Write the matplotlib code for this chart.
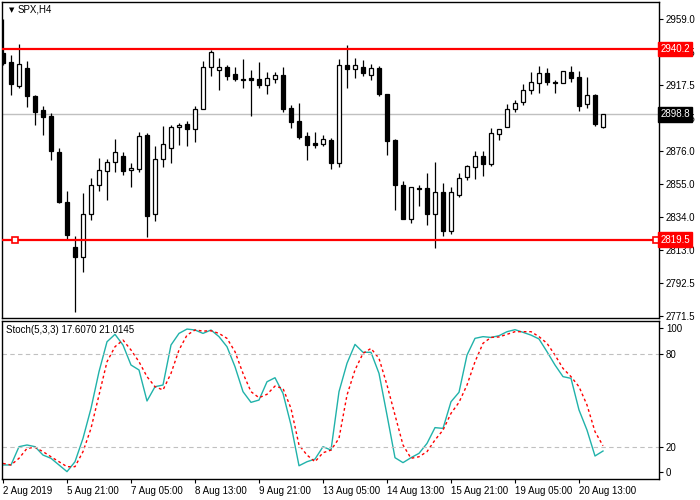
import matplotlib
matplotlib.use('Agg')
import matplotlib.pyplot as plt
import matplotlib.transforms as mtransforms

plt.rcParams['font.family'] = ['Liberation Sans', 'DejaVu Sans']

# SPX H4 candles, one entry per bar
opens = [2937.5, 2931.8, 2917.0, 2928.0, 2910.5, 2901.6, 2897.8, 2875.1, 2843.2, 2814.8,
         2808.9, 2835.7, 2854.0, 2862.9, 2868.6, 2872.3, 2863.5, 2864.5, 2885.6, 2835.7,
         2870.4, 2877.4, 2890.7, 2892.6, 2889.4, 2902.1, 2928.6, 2927.1, 2928.6, 2924.4,
         2921.0, 2921.7, 2921.0, 2917.7, 2921.5, 2923.8, 2902.7, 2894.7, 2885.0, 2880.6,
         2880.3, 2882.7, 2867.9, 2930.1, 2927.8, 2928.6, 2924.0, 2928.0, 2911.5, 2882.7,
         2854.0, 2832.5, 2852.3, 2852.3, 2835.7, 2849.6, 2825.3, 2848.1, 2859.1, 2865.4,
         2872.3, 2867.7, 2886.2, 2890.7, 2902.1, 2906.5, 2914.1, 2918.5, 2924.8, 2919.1,
         2918.5, 2925.5, 2922.3, 2905.2, 2910.9, 2891.1]
highs = [2959.0, 2936.4, 2943.4, 2932.6, 2911.1, 2904.2, 2899.5, 2877.4, 2850.2, 2822.0,
         2849.0, 2858.4, 2871.3, 2870.4, 2883.3, 2875.1, 2867.9, 2887.7, 2886.9, 2878.7,
         2891.5, 2892.1, 2893.2, 2894.7, 2904.2, 2932.6, 2939.6, 2934.3, 2930.1, 2929.0,
         2933.9, 2926.9, 2932.0, 2925.5, 2925.5, 2928.8, 2904.8, 2906.1, 2887.7, 2887.7,
         2885.8, 2883.9, 2933.9, 2942.7, 2934.5, 2933.3, 2930.7, 2929.3, 2911.5, 2883.3,
         2856.7, 2852.7, 2854.2, 2861.8, 2868.8, 2855.5, 2853.0, 2861.6, 2866.9, 2875.7,
         2875.7, 2890.3, 2889.4, 2905.4, 2907.8, 2917.9, 2925.7, 2929.5, 2928.0, 2920.4,
         2926.1, 2929.5, 2926.3, 2922.5, 2911.8, 2899.1]
lows = [2930.1, 2911.1, 2915.8, 2903.7, 2892.1, 2885.8, 2870.0, 2843.0, 2820.1, 2774.1,
        2799.4, 2832.1, 2850.4, 2844.7, 2862.4, 2860.7, 2853.2, 2862.6, 2821.5, 2831.7,
        2865.8, 2868.3, 2879.5, 2878.9, 2881.6, 2902.1, 2923.3, 2914.3, 2920.6, 2920.0,
        2915.8, 2898.1, 2915.8, 2912.0, 2918.9, 2900.4, 2890.5, 2883.5, 2870.0, 2877.8,
        2878.9, 2864.5, 2865.8, 2915.8, 2922.1, 2923.3, 2920.6, 2910.7, 2873.2, 2838.4,
        2832.9, 2830.4, 2840.9, 2828.9, 2814.6, 2822.2, 2823.0, 2846.8, 2857.4, 2858.2,
        2860.1, 2866.4, 2882.9, 2890.7, 2900.6, 2904.8, 2912.0, 2912.6, 2917.7, 2912.6,
        2918.5, 2919.6, 2901.2, 2903.1, 2891.7, 2890.5]
closes = [2931.6, 2917.9, 2930.5, 2910.7, 2900.6, 2897.4, 2875.9, 2843.5, 2822.8, 2808.9,
          2835.7, 2854.0, 2863.5, 2868.6, 2874.9, 2863.3, 2865.0, 2885.0, 2834.8, 2870.4,
          2879.9, 2890.7, 2891.9, 2889.8, 2902.1, 2928.6, 2938.1, 2928.6, 2923.3, 2921.0,
          2920.8, 2920.8, 2917.7, 2921.7, 2923.6, 2902.5, 2894.3, 2884.8, 2879.7, 2879.7,
          2883.3, 2868.3, 2930.1, 2927.8, 2929.9, 2925.2, 2928.0, 2912.0, 2882.2, 2854.4,
          2832.9, 2852.7, 2851.5, 2836.1, 2849.6, 2825.3, 2849.6, 2858.4, 2866.0, 2872.3,
          2867.7, 2886.9, 2889.4, 2902.1, 2905.9, 2914.1, 2919.1, 2924.8, 2919.1, 2918.9,
          2926.1, 2922.1, 2904.4, 2910.9, 2892.8, 2898.8]

# Stochastic (5,3,3)
stoch_k = [8.6, 8.6, 20.4, 21.5, 20.4, 15.0, 12.9, 8.6, 4.3, 10.7,
           25.8, 45.1, 68.8, 88.1, 92.9, 86.0, 73.1, 69.9, 49.9, 59.1,
           60.2, 86.0, 93.5, 96.3, 95.7, 93.5, 95.7, 91.4, 84.9, 72.0,
           55.9, 49.0, 50.5, 62.3, 64.9, 54.8, 34.4, 8.1, 10.7, 12.4,
           20.4, 18.2, 55.9, 74.2, 86.4, 81.3, 81.3, 67.7, 40.8, 13.3,
           10.1, 13.3, 16.1, 22.5, 32.7, 32.2, 49.4, 55.5, 79.5, 90.3,
           91.4, 90.9, 92.0, 94.6, 95.9, 94.2, 92.4, 89.9, 81.7, 73.1,
           65.6, 64.5, 44.1, 31.1, 14.4, 17.6]
stoch_d = [9.6, 8.6, 12.9, 19.3, 20.0, 17.2, 13.9, 10.7, 7.5, 7.5,
           17.2, 32.2, 53.7, 75.2, 84.9, 89.2, 82.8, 75.2, 65.6, 59.1,
           57.0, 67.7, 82.8, 92.4, 95.7, 95.0, 95.2, 93.5, 90.3, 81.7,
           67.7, 55.9, 52.0, 54.2, 59.5, 58.0, 45.1, 21.5, 15.0, 10.7,
           16.5, 18.2, 25.8, 53.7, 69.9, 80.6, 83.8, 77.4, 60.2, 40.8,
           21.5, 12.9, 13.9, 17.2, 24.7, 31.1, 41.9, 49.0, 60.2, 75.2,
           87.1, 90.9, 91.2, 92.9, 94.6, 94.6, 94.6, 91.4, 87.1, 79.5,
           70.9, 65.6, 59.1, 47.3, 30.1, 21.0]

price_ticks = [2771.5, 2792.5, 2813.0, 2834.0, 2855.0, 2876.0, 2896.5, 2917.5, 2938.5, 2959.0]
time_ticks = [0, 8, 16, 24, 32, 40, 48, 56, 64, 72]
time_labels = ['2 Aug 2019', '5 Aug 21:00', '7 Aug 05:00', '8 Aug 13:00', '9 Aug 21:00',
               '13 Aug 05:00', '14 Aug 13:00', '15 Aug 21:00', '19 Aug 05:00', '20 Aug 13:00']
resistance = 2940.2
support = 2819.5
bid = 2898.8

W, H = 700, 500
fig = plt.figure(figsize=(7, 5), dpi=100)
ax = fig.add_axes([2 / W, 1 - 318 / H, 657 / W, 316 / H])
ax2 = fig.add_axes([2 / W, 1 - 479 / H, 657 / W, 158 / H], sharex=ax)

x = list(range(len(opens)))
ax.vlines(x, lows, highs, color='black', lw=0.9, zorder=2)
for i in x:
    o, c = opens[i], closes[i]
    fc = 'white' if c >= o else 'black'
    h = abs(c - o)
    if h < 0.3:
        h = 0.3
    ax.bar(i, h, bottom=min(o, c), width=0.62, color=fc, edgecolor='black', lw=0.9, zorder=3)

ax.axhline(bid, color='#c0c0c0', lw=1, zorder=1)
ax.axhline(resistance, color='red', lw=1.6, zorder=4)
ax.axhline(support, color='red', lw=1.6, zorder=4)
ax.plot([0.02, 0.995], [support, support], 's', ms=4, mfc='white', mec='red', mew=1.2,
        transform=mtransforms.blended_transform_factory(ax.transAxes, ax.transData),
        zorder=5, clip_on=False)

ax.set_xlim(-0.125, 82)
ax.set_ylim(2770.1, 2969.9)
ax.yaxis.tick_right()
ax.set_yticks(price_ticks)
ax.set_yticklabels(['%.1f' % v for v in price_ticks])
ax.tick_params(axis='y', direction='out', length=3, labelsize=7, pad=2)
ax.tick_params(axis='x', bottom=False, labelbottom=False)

tr = mtransforms.blended_transform_factory(ax.transAxes, ax.transData)
for val, col in [(resistance, 'red'), (support, 'red'), (bid, 'black')]:
    ax.text(1.002, val, '%.1f' % val, transform=tr, fontsize=7, color='white',
            ha='left', va='center', zorder=10,
            bbox=dict(boxstyle='square,pad=0.25', fc=col, ec=col))

# stochastic panel
ax2.plot(x, stoch_k, color='#20b2aa', lw=1)
ax2.plot(x, stoch_d, color='red', lw=1, linestyle=(0, (2, 2)))
for lvl in (20, 80):
    ax2.axhline(lvl, color='#c0c0c0', lw=0.8, linestyle=(0, (4, 3)))
ax2.set_ylim(-0.45, 101.5)
ax2.yaxis.tick_right()
ax2.set_yticks([4.1, 20, 80, 97])
ax2.set_yticklabels(['0', '20', '80', '100'])
ax2.tick_params(axis='y', direction='out', length=3, labelsize=7, pad=2)
ax2.set_xticks(time_ticks)
ax2.set_xticklabels(time_labels)
ax2.tick_params(axis='x', direction='out', length=3, labelsize=7, pad=2)
for lbl in ax2.get_xticklabels():
    lbl.set_ha('left')

for a in (ax, ax2):
    for s in a.spines.values():
        s.set_linewidth(1)
        s.set_color('black')

fig.text(9 / W, 1 - 10 / H, '\u25bc', fontsize=5, ha='left', va='center', family='DejaVu Sans')
fig.text(18 / W, 1 - 10 / H, 'SPX,H4', fontsize=7, ha='left', va='center')
fig.text(6 / W, 1 - 330 / H, 'Stoch(5,3,3) 17.6070 21.0145', fontsize=7, ha='left', va='center')

fig.savefig('out.png', dpi=100, facecolor='white')
